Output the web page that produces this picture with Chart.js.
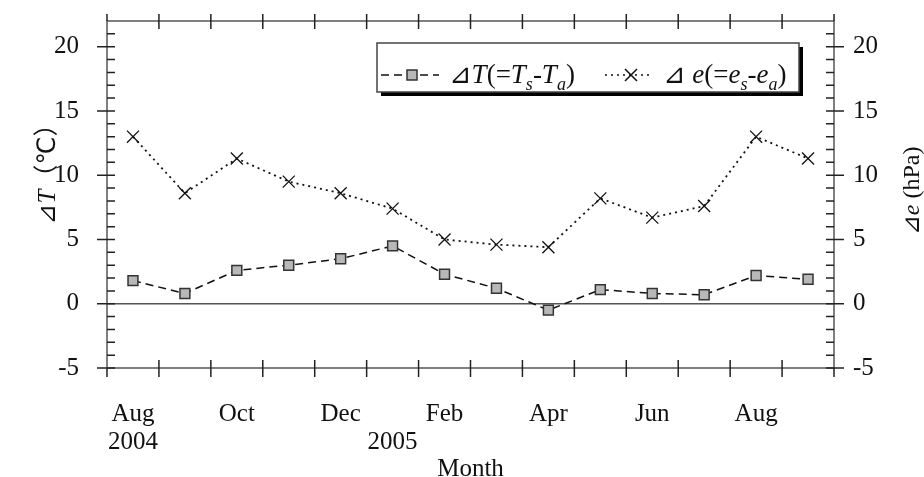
<!DOCTYPE html>
<html>
<head>
<meta charset="utf-8">
<script src="https://cdn.jsdelivr.net/npm/chart.js@4.4.1/dist/chart.umd.min.js"></script>
<style>
  body { margin: 0; background: #fff; }
  #wrap { width: 924px; height: 477px; position: relative; }
</style>
</head>
<body>
<div id="wrap"><canvas id="chart"></canvas></div>
<script>
// Monthly data, Aug 2004 - Sep 2005
const months = ['Aug', 'Sep', 'Oct', 'Nov', 'Dec', 'Jan', 'Feb', 'Mar', 'Apr', 'May', 'Jun', 'Jul', 'Aug', 'Sep'];
const monthLabels = [['Aug', '2004'], '', 'Oct', '', 'Dec', ['', '2005'], 'Feb', '', 'Apr', '', 'Jun', '', 'Aug', ''];
const deltaT = [1.8, 0.8, 2.6, 3.0, 3.5, 4.5, 2.3, 1.2, -0.5, 1.1, 0.8, 0.7, 2.2, 1.9];
const deltaE = [13.0, 8.6, 11.3, 9.5, 8.6, 7.4, 5.0, 4.6, 4.4, 8.2, 6.7, 7.6, 13.0, 11.3];
const yMin = -5;
const yMax = 22;
const yStep = 5;

const SERIF = '"Liberation Serif", "Times New Roman", "DejaVu Sans", "Noto Sans CJK JP", serif';
const font = (size, italic) => (italic ? 'italic ' : '') + size + 'px ' + SERIF;

// draws a list of [text, italic, subscript] pieces
function richText(ctx, parts, x, y, size, align) {
    const sub = Math.round(size * 0.68);
    let w = 0;
    parts.forEach(p => { ctx.font = font(p[2] ? sub : size, p[1]); w += ctx.measureText(p[0]).width; });
    let cx = align === 'center' ? x - w / 2 : x;
    parts.forEach(p => {
        ctx.font = font(p[2] ? sub : size, p[1]);
        ctx.fillText(p[0], cx, y + (p[2] ? size * 0.25 : 0));
        cx += ctx.measureText(p[0]).width;
    });
    return w;
}

const framePlugin = {
    id: 'frame',
    beforeDatasetsDraw(chart) {
        const { ctx, chartArea: a, scales: { y } } = chart;
        const y0 = y.getPixelForValue(0);
        ctx.save();
        ctx.strokeStyle = '#555';
        ctx.lineWidth = 1.5;
        ctx.beginPath();
        ctx.moveTo(a.left, y0);
        ctx.lineTo(a.right, y0);
        ctx.stroke();
        ctx.restore();
    },
    afterDraw(chart) {
        const { ctx, chartArea: a, scales: { y } } = chart;
        ctx.save();

        // plot frame
        ctx.strokeStyle = '#555';
        ctx.lineWidth = 1.5;
        ctx.strokeRect(a.left, a.top, a.right - a.left, a.bottom - a.top);

        // month boundary ticks, top and bottom
        ctx.strokeStyle = '#222';
        ctx.beginPath();
        const n = months.length;
        for (let i = 1; i < n; i++) {
            const px = a.left + i * (a.right - a.left) / n;
            ctx.moveTo(px, a.top - 7); ctx.lineTo(px, a.top + 8);
            ctx.moveTo(px, a.bottom - 8); ctx.lineTo(px, a.bottom + 9);
        }
        ctx.moveTo(a.left, a.top - 7); ctx.lineTo(a.left, a.top);
        ctx.moveTo(a.right, a.top - 7); ctx.lineTo(a.right, a.top);
        ctx.moveTo(a.left, a.bottom); ctx.lineTo(a.left, a.bottom + 9);
        ctx.moveTo(a.right, a.bottom); ctx.lineTo(a.right, a.bottom + 9);

        // y ticks, both sides
        for (let v = yMin; v < yMax; v++) {
            const py = y.getPixelForValue(v);
            if (v % yStep === 0) {
                ctx.moveTo(a.left - 10, py); ctx.lineTo(a.left + 8, py);
                ctx.moveTo(a.right - 8, py); ctx.lineTo(a.right + 10, py);
            } else {
                ctx.moveTo(a.left, py); ctx.lineTo(a.left + 8, py);
                ctx.moveTo(a.right - 8, py); ctx.lineTo(a.right, py);
            }
        }
        ctx.stroke();

        // axis titles
        ctx.fillStyle = '#111';
        ctx.textBaseline = 'alphabetic';
        ctx.textAlign = 'left';
        ctx.font = font(25, false);
        const mw = ctx.measureText('Month').width;
        ctx.fillText('Month', (a.left + a.right) / 2 - mw / 2, 476);

        ctx.save();
        ctx.translate(55, 168);
        ctx.rotate(-Math.PI / 2);
        richText(ctx, [['⊿T', true], ['（℃）', false]], 0, 0, 25, 'center');
        ctx.restore();

        ctx.save();
        ctx.translate(919, 191);
        ctx.rotate(-Math.PI / 2);
        richText(ctx, [['⊿e', true], [' (hPa)', false]], 0, 0, 24, 'center');
        ctx.restore();

        // legend box with shadow
        const lx = 377, ly = 43, lw = 422, lh = 49;
        ctx.fillStyle = '#000';
        ctx.fillRect(lx + 4, ly + 4, lw, lh);
        ctx.fillStyle = '#fff';
        ctx.fillRect(lx, ly, lw, lh);
        ctx.strokeStyle = '#444';
        ctx.lineWidth = 1.5;
        ctx.strokeRect(lx, ly, lw, lh);

        const sy = 75;
        // dashed sample with square
        ctx.strokeStyle = '#111';
        ctx.setLineDash([8, 5]);
        ctx.beginPath(); ctx.moveTo(381, sy); ctx.lineTo(439, sy); ctx.stroke();
        ctx.setLineDash([]);
        ctx.fillStyle = '#b8b8b8';
        ctx.fillRect(407, sy - 5, 10, 10);
        ctx.strokeStyle = '#333';
        ctx.strokeRect(407, sy - 5, 10, 10);
        // dotted sample with cross
        ctx.strokeStyle = '#111';
        ctx.setLineDash([2, 4]);
        ctx.beginPath(); ctx.moveTo(605, sy); ctx.lineTo(653, sy); ctx.stroke();
        ctx.setLineDash([]);
        ctx.beginPath();
        ctx.moveTo(625, sy - 6); ctx.lineTo(637, sy + 6);
        ctx.moveTo(625, sy + 6); ctx.lineTo(637, sy - 6);
        ctx.stroke();

        ctx.fillStyle = '#111';
        richText(ctx, [['⊿T', true], ['(=', false], ['T', true], ['s', true, true], ['-', false], ['T', true], ['a', true, true], [')', false]], 449, 83, 27, 'left');
        richText(ctx, [['⊿ e', true], ['(=', false], ['e', true], ['s', true, true], ['-', false], ['e', true], ['a', true, true], [')', false]], 663, 83, 27, 'left');

        ctx.restore();
    }
};

const axisFont = { family: SERIF, size: 25, lineHeight: 1.12 };

new Chart(document.getElementById('chart'), {
    type: 'line',
    data: {
        labels: monthLabels,
        datasets: [
            {
                label: 'ΔT',
                data: deltaT,
                yAxisID: 'y',
                borderColor: '#111',
                borderWidth: 1.5,
                borderDash: [8, 5],
                pointStyle: 'rect',
                pointRadius: 7,
                pointBackgroundColor: '#b8b8b8',
                pointBorderColor: '#333',
                pointBorderWidth: 1.5,
                tension: 0
            },
            {
                label: 'Δe',
                data: deltaE,
                yAxisID: 'y2',
                borderColor: '#111',
                borderWidth: 1.8,
                borderDash: [2, 4],
                pointStyle: 'crossRot',
                pointRadius: 8.5,
                pointBorderColor: '#111',
                pointBorderWidth: 1.3,
                tension: 0
            }
        ]
    },
    options: {
        responsive: true,
        maintainAspectRatio: false,
        animation: false,
        events: [],
        layout: { padding: { top: 21, left: 0, right: 0, bottom: 0 } },
        plugins: {
            legend: { display: false },
            tooltip: { enabled: false }
        },
        scales: {
            x: {
                type: 'category',
                offset: true,
                grid: { display: false, drawTicks: false },
                border: { display: false },
                ticks: {
                    autoSkip: false,
                    maxRotation: 0,
                    minRotation: 0,
                    padding: 32,
                    color: '#111',
                    font: axisFont
                },
                afterFit: s => { s.height = 109; s.paddingLeft = 0; s.paddingRight = 0; }
            },
            y: {
                position: 'left',
                min: yMin,
                max: yMax,
                grid: { display: false, drawTicks: false },
                border: { display: false },
                ticks: { stepSize: yStep, includeBounds: false, padding: 28, color: '#111', font: axisFont },
                afterFit: s => { s.width = 107; s.paddingTop = 0; s.paddingBottom = 0; }
            },
            y2: {
                position: 'right',
                min: yMin,
                max: yMax,
                grid: { display: false, drawTicks: false },
                border: { display: false },
                ticks: { stepSize: yStep, includeBounds: false, padding: 19, color: '#111', font: axisFont },
                afterFit: s => { s.width = 90; s.paddingTop = 0; s.paddingBottom = 0; }
            }
        }
    },
    plugins: [framePlugin]
});
</script>
</body>
</html>
